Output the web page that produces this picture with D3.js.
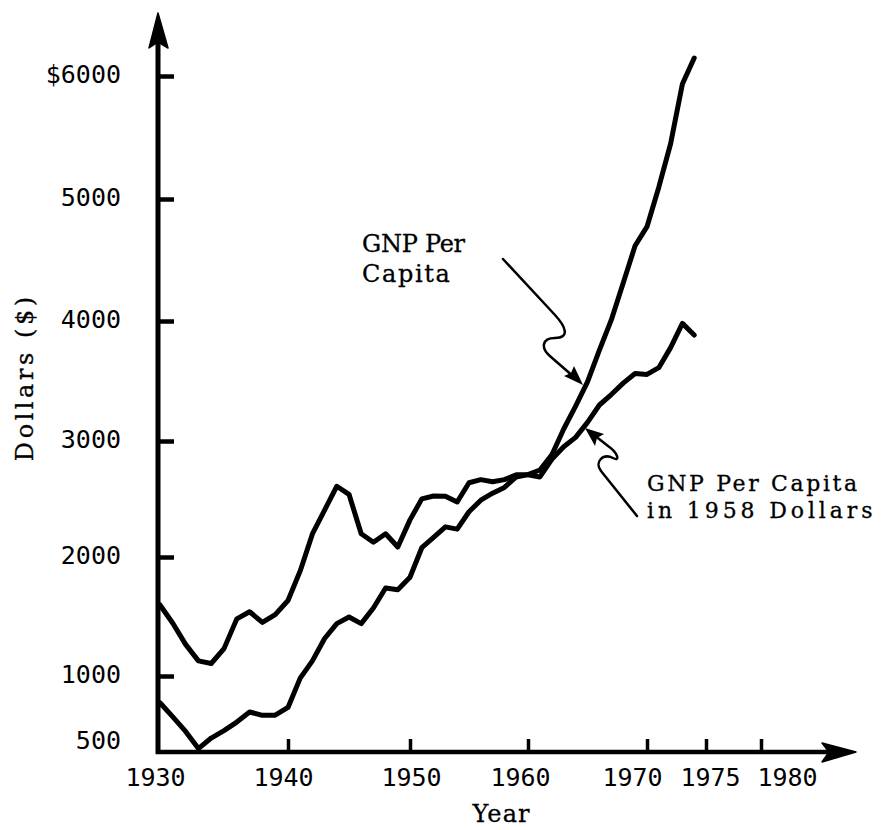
<!DOCTYPE html>
<html>
<head>
<meta charset="utf-8">
<script src="https://cdn.jsdelivr.net/npm/d3@7"></script>
<style>
  html, body { margin: 0; padding: 0; background: #fff; }
  svg { display: block; }
</style>
</head>
<body>
<svg id="chart" width="885" height="830"></svg>
<script>
// ---------------- data ----------------
const years = [1930,1931,1932,1933,1934,1935,1936,1937,1938,1939,
               1940,1941,1942,1943,1944,1945,1946,1947,1948,1949,
               1950,1951,1952,1953,1954,1955,1956,1957,1958,1959,
               1960,1961,1962,1963,1964,1965,1966,1967,1968,1969,
               1970,1971,1972,1973,1974];
// GNP per capita, current dollars
const gnpPerCapita = [797,690,580,450,530,586,651,727,702,703,
                      762,984,1127,1315,1440,1496,1440,1571,1740,1725,
                      1830,2080,2170,2260,2240,2390,2490,2550,2600,2690,
                      2710,2750,2880,3100,3290,3492,3758,4009,4311,4617,
                      4773,5096,5449,5935,6146];
// GNP per capita in 1958 dollars
const gnpPerCapita1958 = [1597,1443,1266,1127,1105,1230,1480,1540,1450,1516,
                          1634,1883,2199,2405,2610,2540,2200,2127,2200,2086,
                          2320,2501,2526,2524,2474,2640,2667,2648,2667,2708,
                          2708,2690,2842,2950,3030,3155,3300,3387,3482,3563,
                          3555,3611,3778,3980,3883];
const xTicks = [1930,1940,1950,1960,1970,1975,1980];
const yTicks = [500,1000,2000,3000,4000,5000,6000];
const yTickLabels = ["500","1000","2000","3000","4000","5000","$6000"];
const labelCurrent = ["GNP Per","Capita"];
const label1958 = ["GNP Per Capita","in 1958 Dollars"];
const xTitle = "Year";
const yTitle = "Dollars ($)";

// ---------------- layout ----------------
const svg = d3.select("#chart");
const axisX0 = 158, axisY0 = 752;

// hand-drawn axis: uneven spacing of the original graph paper
const x = d3.scaleLinear().domain(xTicks).range([160,288,410,528,647,706,761]);
const y = d3.scaleLinear().domain(yTicks).range([742,676,557,441,321,199,76]);
// typed year labels sit a little off their tick marks in the original
const xLabelShift = [-5,-5,1,-8,-15,4,26];

const typeFont = "'DejaVu Serif', serif";
const monoSans = "'DejaVu Sans Mono', monospace";

// y axis ticks
const yAxis = d3.axisLeft(y)
  .tickValues(yTicks)
  .tickSizeInner(-16).tickSizeOuter(0)
  .tickPadding(37)
  .tickFormat((d,i) => yTickLabels[i]);
const gy = svg.append("g").attr("transform", `translate(${axisX0},0)`).call(yAxis);
gy.select(".domain").remove();
gy.selectAll(".tick line").attr("stroke","#000").attr("stroke-width",4.5)
  .attr("display", d => d === 500 ? "none" : null);
gy.selectAll(".tick text").attr("font-family", monoSans).attr("font-size", 25)
  .attr("fill","#000").attr("dy","0.25em");

// x axis ticks
const xAxis = d3.axisBottom(x)
  .tickValues(xTicks)
  .tickSizeInner(-13).tickSizeOuter(0)
  .tickPadding(16)
  .tickFormat(d3.format("d"));
const gx = svg.append("g").attr("transform", `translate(0,${axisY0})`).call(xAxis);
gx.select(".domain").remove();
gx.selectAll(".tick line").attr("stroke","#000").attr("stroke-width",3.5)
  .attr("display", d => d === 1930 ? "none" : null);
gx.selectAll(".tick text").attr("font-family", monoSans).attr("font-size", 25)
  .attr("fill","#000").attr("dx", (d,i) => xLabelShift[i]);

// axis lines with arrow heads
svg.append("line").attr("x1",axisX0).attr("y1",axisY0+2).attr("x2",axisX0).attr("y2",40)
  .attr("stroke","#000").attr("stroke-width",5);
svg.append("path").attr("d","M158,13 L149,48 L158,42 L168,48 Z").attr("fill","#000")
  .attr("stroke","#000").attr("stroke-width",1.5).attr("stroke-linejoin","round");
svg.append("line").attr("x1",axisX0-2).attr("y1",axisY0).attr("x2",828).attr("y2",axisY0)
  .attr("stroke","#000").attr("stroke-width",4.5);
svg.append("path").attr("d","M856,752 L822,743 L829,752 L822,762 Z").attr("fill","#000")
  .attr("stroke","#000").attr("stroke-width",1.5).attr("stroke-linejoin","round");

// data lines
const line = d3.line().x(d => x(d[0])).y(d => y(d[1]));
[gnpPerCapita, gnpPerCapita1958].forEach(series => {
  svg.append("path")
    .datum(years.map((yr,i) => [yr, series[i]]))
    .attr("d", line)
    .attr("fill","none").attr("stroke","#000")
    .attr("stroke-width",5).attr("stroke-linejoin","round").attr("stroke-linecap","round");
});

// typewriter-like text: fixed pitch of ~15.4 px per character
function tw(txt, tx, ty, anchor, rot, size) {
  svg.append("text")
    .attr("transform", `translate(${tx},${ty})${rot ? " rotate(-90)" : ""}`)
    .attr("font-family", typeFont).attr("font-size", size || 24)
    .attr("text-anchor", anchor || "start")
    .attr("textLength", txt.length * 15.3 - 4)
    .attr("lengthAdjust", "spacing")
    .attr("fill","#000").attr("stroke","#000").attr("stroke-width",0.3)
    .text(txt);
}
tw(labelCurrent[0], 362, 252);
tw(labelCurrent[1], 362, 282);
tw(label1958[0], 647, 491, "start", false, 22);
tw(label1958[1], 647, 518, "start", false, 22);
tw(xTitle, 501, 822, "middle");
tw(yTitle, 33, 379, "middle", true);

// curly annotation arrows
svg.append("path")
  .attr("d","M503,259 L555,315 C566,327 570,338 555,338 C542,338 540,348 551,357 L574,377")
  .attr("fill","none").attr("stroke","#000").attr("stroke-width",2.5).attr("stroke-linecap","round");
svg.append("path").attr("d","M583,385 L564,376 L571,373 L574,366 Z").attr("fill","#000");

svg.append("path")
  .attr("d","M637,516 L601,471 C594,462 603,453 613,458 C621,462 617,452 608,446 L594,435")
  .attr("fill","none").attr("stroke","#000").attr("stroke-width",2.5).attr("stroke-linecap","round");
svg.append("path").attr("d","M585,428 L604,434 L597,438 L595,446 Z").attr("fill","#000");
</script>
</body>
</html>
